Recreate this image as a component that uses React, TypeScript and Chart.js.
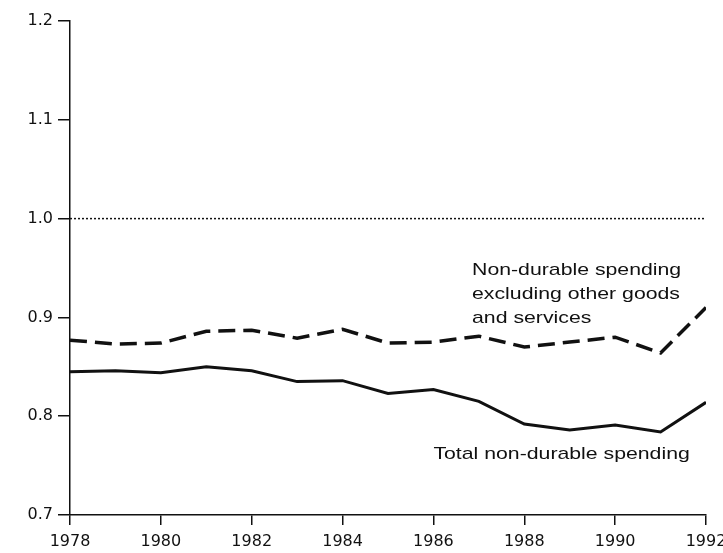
import React, { useEffect, useRef } from "react";
import { Chart, registerables } from "chart.js";

Chart.register(...registerables);

const years = [1978, 1979, 1980, 1981, 1982, 1983, 1984, 1985, 1986, 1987, 1988, 1989, 1990, 1991, 1992];
const excludingOther = [0.877, 0.873, 0.874, 0.886, 0.887, 0.879, 0.888, 0.874, 0.875, 0.881, 0.870, 0.875, 0.880, 0.864, 0.910];
const totalNonDurable = [0.845, 0.846, 0.844, 0.850, 0.846, 0.835, 0.836, 0.823, 0.827, 0.815, 0.792, 0.786, 0.791, 0.784, 0.814];
const referenceLevel = [1.0, 1.0];
const referenceYears = [1978, 1992];
const excludingLabel = ["Non-durable spending", "excluding other goods", "and services"];
const totalLabel = ["Total non-durable spending"];

const INK = "#111111";

const labelPlugin = {
  id: "seriesLabels",
  afterDatasetsDraw(chart: any) {
    const { ctx, scales } = chart;
    const x = scales.x;
    const y = scales.y;
    ctx.save();
    ctx.font = '17px "Liberation Sans", Arial, Helvetica, sans-serif';
    ctx.fillStyle = INK;
    ctx.textBaseline = "alphabetic";
    ctx.textAlign = "left";
    const draw = (text: string, xv: number, yv: number, dy: number) => {
      const px = x.getPixelForValue(xv);
      const py = y.getPixelForValue(yv) + dy;
      ctx.save();
      ctx.translate(px, py);
      ctx.scale(1.25, 1);
      ctx.fillText(text, 0, 0);
      ctx.restore();
    };
    excludingLabel.forEach((t, i) => draw(t, 1986.85, 0.9425, i * 24));
    totalLabel.forEach((t, i) => draw(t, 1986.0, 0.7565, i * 24));
    ctx.restore();
  },
};

export default function App() {
  const ref = useRef<HTMLCanvasElement | null>(null);
  useEffect(() => {
    if (!ref.current) return;
    const tickFont = { family: '"DejaVu Sans", Verdana, sans-serif', size: 16 };
    const chart = new Chart(ref.current, {
      type: "line",
      data: {
        datasets: [
          {
            label: "Reference",
            data: referenceYears.map((yr, i) => ({ x: yr, y: referenceLevel[i] })),
            borderColor: INK,
            borderWidth: 1.5,
            borderDash: [2, 2],
            pointRadius: 0,
            tension: 0,
          },
          {
            label: "Non-durable spending excluding other goods and services",
            data: years.map((yr, i) => ({ x: yr, y: excludingOther[i] })),
            borderColor: INK,
            borderWidth: 3.5,
            borderDash: [17, 8],
            pointRadius: 0,
            tension: 0,
          },
          {
            label: "Total non-durable spending",
            data: years.map((yr, i) => ({ x: yr, y: totalNonDurable[i] })),
            borderColor: INK,
            borderWidth: 3,
            pointRadius: 0,
            tension: 0,
          },
        ],
      },
      options: {
        animation: false,
        responsive: false,
        layout: { padding: { left: 0, top: 21, right: 17, bottom: 0 } },
        plugins: { legend: { display: false }, tooltip: { enabled: false }, title: { display: false } },
        scales: {
          x: {
            type: "linear",
            min: 1978,
            max: 1992,
            afterFit: (s: any) => {
              s.height = 38;
              s.paddingRight = 0;
              s.paddingLeft = 0;
            },
            border: { display: true, color: INK, width: 1.5 },
            grid: { display: true, drawOnChartArea: false, drawTicks: true, tickLength: 10, color: INK, lineWidth: 1.5 },
            ticks: {
              stepSize: 2,
              color: INK,
              font: tickFont,
              padding: 7,
              maxRotation: 0,
              callback: (v: any) => String(v),
            },
          },
          y: {
            type: "linear",
            min: 0.7,
            max: 1.2,
            afterFit: (s: any) => { s.width = 70; },
            border: { display: true, color: INK, width: 1.5 },
            grid: { display: true, drawOnChartArea: false, drawTicks: true, tickLength: 12, color: INK, lineWidth: 1.5 },
            ticks: {
              stepSize: 0.1,
              color: INK,
              font: tickFont,
              padding: 5,
              callback: (v: any) => Number(v).toFixed(1),
            },
          },
        },
      },
      plugins: [labelPlugin],
    });
    return () => chart.destroy();
  }, []);
  return (
    <div style={{ position: "absolute", left: 0, top: 0, width: 723, height: 553, background: "#fff" }}>
      <canvas ref={ref} width={723} height={553} style={{ width: 723, height: 553, display: "block" }} />
    </div>
  );
}
